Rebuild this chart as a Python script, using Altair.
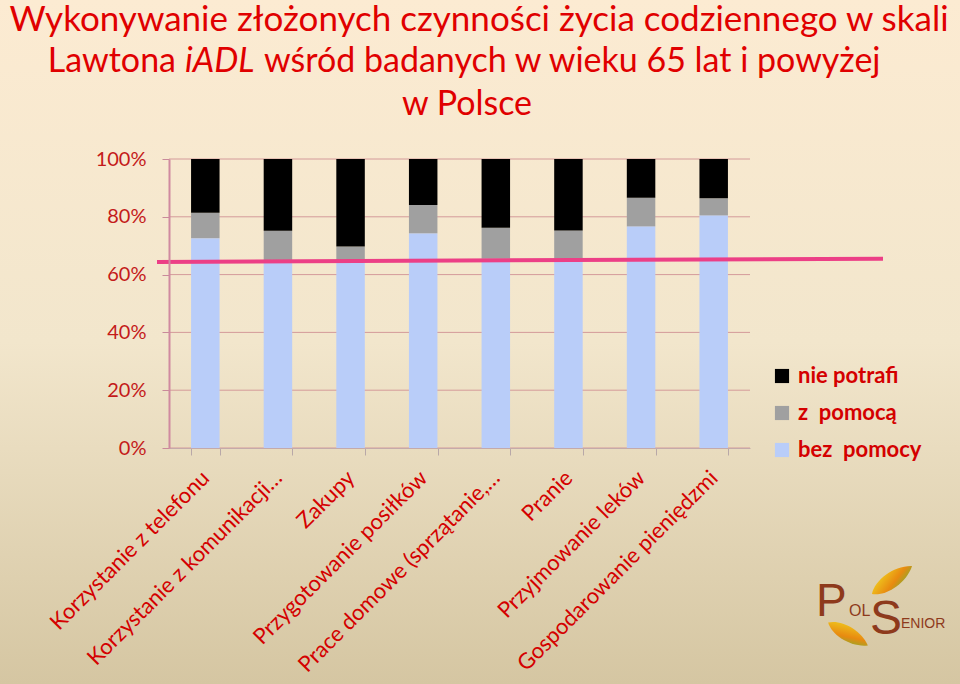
import altair as alt
import pandas as pd

categories = ["Korzystanie z telefonu", "Korzystanie z komunikacji…", "Zakupy",
              "Przygotowanie posiłków", "Prace domowe (sprzątanie,…", "Pranie",
              "Przyjmowanie leków", "Gospodarowanie pieniędzmi"]
bez_pomocy = [72.6, 65.0, 64.5, 74.3, 65.5, 65.5, 76.7, 80.5]
z_pomoca = [8.8, 10.2, 5.2, 9.8, 10.7, 9.8, 9.9, 5.9]
nie_potrafi = [18.6, 24.8, 30.3, 15.9, 23.8, 24.7, 13.4, 13.6]
series = ["nie potrafi", "z\u00a0 pomocą", "bez\u00a0 pomocy"]
series_colors = ["#000000", "#a0a0a0", "#b9cdf9"]
y_ticks = [0, 20, 40, 60, 80, 100]
ref_line = [64.4, 65.5]

rows = []
for i, c in enumerate(categories):
    rows.append({"kat": c, "seria": series[2], "v": bez_pomocy[i], "o": 0})
    rows.append({"kat": c, "seria": series[1], "v": z_pomoca[i], "o": 1})
    rows.append({"kat": c, "seria": series[0], "v": nie_potrafi[i], "o": 2})
df = pd.DataFrame(rows)

W, H = 581, 289
one = pd.DataFrame({"a": [0]})
RED = "#e00000"
FONT = "Lato"
yscale = alt.Scale(domain=[0, 100], nice=False)
yaxis = alt.Axis(values=y_ticks, labelExpr="datum.value + '%'",
                 labelColor="#c41a1a", labelFontSize=20, labelFont=FONT,
                 labelPadding=16, tickSize=7, tickColor="#c98a9a",
                 domainColor="#d08aa0", domainWidth=2, grid=False, zindex=1)

bg = alt.Chart(one).mark_rect(
    color=alt.LinearGradient(
        gradient="linear", x1=0, y1=0, x2=0, y2=1,
        stops=[alt.GradientStop(color="#fcebd2", offset=0),
               alt.GradientStop(color="#f2e6cc", offset=0.5),
               alt.GradientStop(color="#d5c6a2", offset=1)])
).encode(x=alt.value(-169), x2=alt.value(960 - 169), y=alt.value(-159), y2=alt.value(684 - 159))

grid = alt.Chart(pd.DataFrame({"t": y_ticks})).mark_rule(color="#d49a9a", strokeWidth=1).encode(
    y=alt.Y("t:Q", scale=yscale, axis=yaxis, title=None), x=alt.value(0), x2=alt.value(W))

bars = alt.Chart(df).mark_bar(size=28.5).encode(
    x=alt.X("kat:N", sort=categories, title=None,
            scale=alt.Scale(paddingInner=0.6, paddingOuter=0.3),
            axis=alt.Axis(labelAngle=-45, labelAlign="right", labelBaseline="middle",
                          labelColor="#d40000", labelFontSize=22, labelFont=FONT,
                          labelPadding=19, tickBand="extent", tickSize=7,
                          tickColor="#b8a8a8", domainColor="#c4aaaa", grid=False,
                          labelLimit=400, zindex=1)),
    y=alt.Y("v:Q", stack="zero", title=None, scale=yscale, axis=yaxis),
    color=alt.Color("seria:N", scale=alt.Scale(domain=series, range=series_colors),
                    legend=alt.Legend(title=None, orient="none", legendX=602, legendY=206,
                                      symbolType="square", symbolSize=200, symbolStrokeWidth=0,
                                      labelFontSize=22, labelFont=FONT, labelFontWeight="bold",
                                      labelColor="#d40000", rowPadding=15, labelOffset=5)),
    order=alt.Order("o:Q"),
)

line = alt.Chart(one).mark_rule(color="#ec3f86", strokeWidth=4).encode(
    x=alt.value(-12), x2=alt.value(714),
    y=alt.datum(ref_line[0]), y2=alt.datum(ref_line[1]))

def txt(t, x, y, align="center", style="normal", size=35, color=RED, font=FONT, weight="normal"):
    return alt.Chart(one).mark_text(text=t, align=align, baseline="alphabetic", fontSize=size,
                                    font=font, fontStyle=style, color=color,
                                    fontWeight=weight).encode(
        x=alt.value(x - 169), y=alt.value(y - 159))

titles = [
    txt("Wykonywanie złożonych czynności życia codziennego w skali", 479, 31),
    txt("Lawtona", 176, 72, align="right", size=34),
    txt("iADL", 185, 72, align="left", style="italic", size=34),
    txt("wśród badanych w wieku 65 lat i powyżej", 264, 72, align="left", size=34),
    txt("w Polsce", 467, 115, size=34),
]

BROWN = "#8e3a1c"
LF = "Liberation Sans"
LEAF = "M-1,0 C-0.6,-0.4 0.4,-0.45 1,0 C0.4,0.45 -0.6,0.4 -1,0 Z"
leaf_fill = alt.LinearGradient(
    gradient="linear", x1=0, y1=0, x2=1, y2=1,
    stops=[alt.GradientStop(color="#f0d020", offset=0),
           alt.GradientStop(color="#e88a10", offset=0.6),
           alt.GradientStop(color="#7cb030", offset=1)])

def leaf(x, y, ang, size):
    return alt.Chart(one).mark_point(shape=LEAF, filled=True, fill=leaf_fill, opacity=1,
                                     angle=ang, size=size, strokeWidth=0).encode(
        x=alt.value(x - 169), y=alt.value(y - 159))

logo = [
    leaf(892, 580, 325, 2400),
    leaf(848, 634, 30, 2100),
    txt("P", 816, 616, align="left", size=46, color=BROWN, font=LF),
    txt("OL", 849, 616, align="left", size=16, color=BROWN, font=LF),
    txt("S", 870, 634, align="left", size=48, color=BROWN, font=LF),
    txt("ENIOR", 901, 628, align="left", size=14, color=BROWN, font=LF),
]

chart = alt.layer(bg, grid, bars, line, *titles, *logo).properties(
    width=W, height=H,
    autosize=alt.AutoSizeParams(type="none"),
    padding={"left": 169, "top": 159, "right": 960 - 169 - W, "bottom": 684 - 159 - H},
).configure_view(stroke=None).configure(background="#f3e8cd")

chart.save("out.html", embed_options={"renderer": "svg", "actions": False})
